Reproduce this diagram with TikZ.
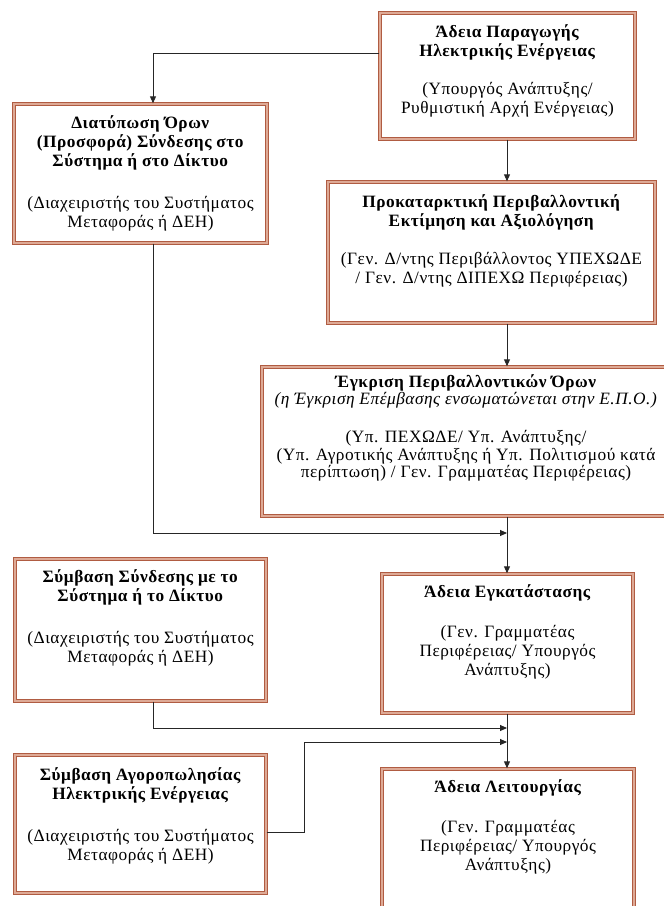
\documentclass[tikz,border=0pt]{standalone}
\usepackage{fontspec}
\setmainfont{Liberation Serif}[LetterSpace=3]
\usetikzlibrary{arrows.meta,calc}
\definecolor{frameDark}{RGB}{176,92,66}
\definecolor{frameLight}{RGB}{222,170,150}
\tikzset{
  box/.style={rectangle, draw=frameDark, double=frameLight, line width=1.4pt, double distance=1.1pt, fill=white, inner sep=0pt},
  lbl/.style={anchor=north, align=center, inner sep=0pt, font=\fontsize{17.3}{19}\selectfont},
  conn/.style={draw=black!85, line width=0.9pt},
  arr/.style={conn, -{Triangle[length=7pt,width=6pt]}}
}
\begin{document}
\begin{tikzpicture}[x=1pt,y=-1pt]
\clip (0,0) rectangle (664,906);
\fill[white] (0,0) rectangle (664,906);
% boxes
\node[box, minimum width=255pt, minimum height=126pt] (b1) at (507.5,76) {};
\node[box, minimum width=253pt, minimum height=139pt] (b2) at (140.5,173.5) {};
\node[box, minimum width=327pt, minimum height=141pt] (b3) at (491.5,252.5) {};
\node[box, minimum width=408pt, minimum height=149pt] (b4) at (466,441.5) {};
\node[box, minimum width=251pt, minimum height=139pt] (b5) at (507.5,643.5) {};
\node[box, minimum width=251pt, minimum height=142pt] (b6) at (140.5,630) {};
\node[box, minimum width=251pt, minimum height=138pt] (b7) at (140.5,824) {};
\node[box, minimum width=252pt, minimum height=151pt] (b8) at (508,844.5) {};
% labels
\node[lbl] (t1) at ([yshift=-11.7pt]b1.north) {\strut\textbf{Άδεια Παραγωγής}\\\textbf{Ηλεκτρικής Ενέργειας}\\[19pt](Υπουργός Ανάπτυξης/\\Ρυθμιστική Αρχή Ενέργειας)};
\node[lbl] (t2) at ([yshift=-11.7pt]b2.north) {\strut\textbf{Διατύπωση Όρων}\\\textbf{(Προσφορά) Σύνδεσης στο}\\\textbf{Σύστημα ή στο Δίκτυο}\\[23pt](Διαχειριστής του Συστήματος\\Μεταφοράς ή ΔΕΗ)};
\node[lbl] (t3) at ([yshift=-12.7pt]b3.north) {\strut\textbf{Προκαταρκτική Περιβαλλοντική}\\\textbf{Εκτίμηση και Αξιολόγηση}\\[19pt](Γεν. Δ/ντης Περιβάλλοντος ΥΠΕΧΩΔΕ\\/ Γεν. Δ/ντης ΔΙΠΕΧΩ Περιφέρειας)};
\node[lbl, font=\fontsize{17.3}{17.5}\selectfont] (t4) at ([yshift=-7.8pt]b4.north) {\strut\textbf{Έγκριση Περιβαλλοντικών Όρων}\\[-0.5pt]\textit{(η Έγκριση Επέμβασης ενσωματώνεται στην Ε.Π.Ο.)}\\[21pt](Υπ. ΠΕΧΩΔΕ/ Υπ. Ανάπτυξης/\\(Υπ. Αγροτικής Ανάπτυξης ή Υπ. Πολιτισμού κατά\\περίπτωση) / Γεν. Γραμματέας Περιφέρειας)};
\node[lbl] (t5) at ([yshift=-10.7pt]b5.north) {\strut\textbf{Άδεια Εγκατάστασης}\\[21pt](Γεν. Γραμματέας\\Περιφέρειας/ Υπουργός\\Ανάπτυξης)};
\node[lbl] (t6) at ([yshift=-10.7pt]b6.north) {\strut\textbf{Σύμβαση Σύνδεσης με το}\\\textbf{Σύστημα ή το Δίκτυο}\\[23pt](Διαχειριστής του Συστήματος\\Μεταφοράς ή ΔΕΗ)};
\node[lbl] (t7) at ([yshift=-12.7pt]b7.north) {\strut\textbf{Σύμβαση Αγοροπωλησίας}\\\textbf{Ηλεκτρικής Ενέργειας}\\[23pt](Διαχειριστής του Συστήματος\\Μεταφοράς ή ΔΕΗ)};
\node[lbl] (t8) at ([yshift=-10.7pt]b8.north) {\strut\textbf{Άδεια Λειτουργίας}\\[21pt](Γεν. Γραμματέας\\Περιφέρειας/ Υπουργός\\Ανάπτυξης)};
% helper coordinates
\coordinate (spine) at (507,0);
\coordinate (colL) at (153,0);
\coordinate (b1w) at ([yshift=-41pt]b1.north west);
\coordinate (j1) at (spine |- 0,533);
\coordinate (j2) at (spine |- 0,728);
\coordinate (j3) at (spine |- 0,742);
\coordinate (b7e) at (b7.east |- 0,832);
\coordinate (k7) at (304,832);
% connectors
\draw[arr] (b1w) -| (b2.north -| colL);
\draw[arr] (b1.south -| spine) -- (b3.north -| spine);
\draw[arr] (b3.south -| spine) -- (b4.north -| spine);
\draw[arr] (b4.south -| spine) -- (b5.north -| spine);
\draw[arr] (b5.south -| spine) -- (b8.north -| spine);
\draw[arr] (b2.south -| colL) |- (j1);
\draw[arr] (b6.south -| colL) |- (j2);
\draw[arr] (b7e) -- (k7) |- (j3);
\end{tikzpicture}
\end{document}
